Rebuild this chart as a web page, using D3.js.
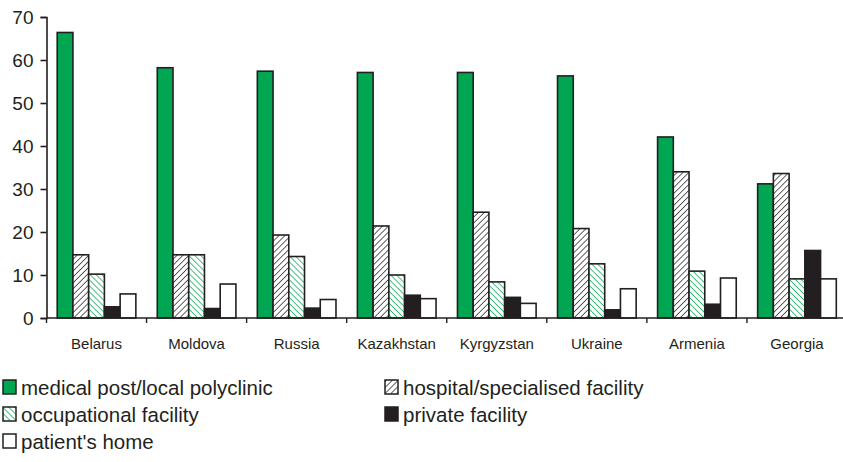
<!DOCTYPE html>
<html>
<head>
<meta charset="utf-8">
<script src="https://cdn.jsdelivr.net/npm/d3@7"></script>
<style>
  body { margin: 0; background: #fff; }
  text { font-family: "Liberation Sans", Arial, sans-serif; fill: #231f20; }
</style>
</head>
<body>
<div id="chart"></div>
<script>
const countries = ['Belarus', 'Moldova', 'Russia', 'Kazakhstan', 'Kyrgyzstan', 'Ukraine', 'Armenia', 'Georgia'];
const seriesNames = ['medical post/local polyclinic', 'hospital/specialised facility', 'occupational facility', 'private facility', "patient's home"];
const medical = [66.4, 58.2, 57.4, 57.1, 57.1, 56.3, 42.1, 31.2];
const hospital = [14.7, 14.7, 19.3, 21.4, 24.6, 20.8, 34.0, 33.6];
const occupational = [10.2, 14.7, 14.3, 10.0, 8.4, 12.6, 10.9, 9.1];
const privateFac = [2.6, 2.2, 2.3, 5.3, 4.8, 1.9, 3.2, 15.7];
const home = [5.6, 7.9, 4.3, 4.5, 3.4, 6.8, 9.3, 9.1];
const yTicks = [0, 10, 20, 30, 40, 50, 60, 70];

const seriesValues = [medical, hospital, occupational, privateFac, home];
const fills = ['#00a651', 'url(#hatchHosp)', 'url(#hatchOcc)', '#231f20', '#fff'];
const ink = '#231f20';

const width = 843, height = 462;
const svg = d3.select('#chart').append('svg')
  .attr('width', width)
  .attr('height', height);

// hatch patterns
const defs = svg.append('defs');
const hosp = defs.append('pattern')
  .attr('id', 'hatchHosp')
  .attr('patternUnits', 'userSpaceOnUse')
  .attr('width', 4.2).attr('height', 4.2)
  .attr('patternTransform', 'rotate(45)');
hosp.append('rect').attr('width', 4.2).attr('height', 4.2).attr('fill', '#fff');
hosp.append('line').attr('x1', 0).attr('y1', 0).attr('x2', 0).attr('y2', 4.2)
  .attr('stroke', ink).attr('stroke-width', 1.4);
const occ = defs.append('pattern')
  .attr('id', 'hatchOcc')
  .attr('patternUnits', 'userSpaceOnUse')
  .attr('width', 4.2).attr('height', 4.2)
  .attr('patternTransform', 'rotate(-45)');
occ.append('rect').attr('width', 4.2).attr('height', 4.2).attr('fill', '#fff');
occ.append('line').attr('x1', 0).attr('y1', 0).attr('x2', 0).attr('y2', 4.2)
  .attr('stroke', '#00a651').attr('stroke-width', 1.4);

const plotLeft = 46.5, plotRight = 847, plotTop = 17, plotBottom = 318;

const y = d3.scaleLinear().domain([0, 70]).range([plotBottom, plotTop]);
const x0 = d3.scaleBand().domain(countries).range([plotLeft, plotRight]).padding(0);
const x1 = d3.scaleBand().domain(d3.range(seriesNames.length))
  .range([x0.bandwidth() * 0.107, x0.bandwidth() * 0.893]).padding(0);

// bars
const groups = svg.selectAll('.country')
  .data(countries)
  .enter()
  .append('g')
  .attr('class', 'country')
  .attr('transform', d => `translate(${x0(d)},0)`);

groups.selectAll('rect')
  .data((c, ci) => seriesValues.map((vals, si) => ({ si, v: vals[ci] })))
  .enter()
  .append('rect')
  .attr('x', d => x1(d.si))
  .attr('y', d => y(d.v))
  .attr('width', x1.bandwidth())
  .attr('height', d => plotBottom - y(d.v))
  .attr('fill', d => fills[d.si])
  .attr('stroke', ink)
  .attr('stroke-width', 1.6);

// y axis
const yAxis = svg.append('g')
  .attr('transform', `translate(${plotLeft},0)`)
  .call(d3.axisLeft(y).tickValues(yTicks).tickSize(6).tickPadding(7));
yAxis.select('.domain').attr('stroke', ink).attr('stroke-width', 1.6);
yAxis.selectAll('.tick line').attr('stroke', ink).attr('stroke-width', 1.6);
yAxis.selectAll('.tick text')
  .style('font-family', '"Liberation Sans", Arial, sans-serif')
  .style('font-size', '19px')
  .attr('fill', ink);

// x axis: line plus boundary ticks
const xAxis = svg.append('g');
xAxis.append('line')
  .attr('x1', plotLeft).attr('x2', plotRight)
  .attr('y1', plotBottom).attr('y2', plotBottom)
  .attr('stroke', ink).attr('stroke-width', 1.6);
xAxis.selectAll('.xtick')
  .data(countries)
  .enter()
  .append('line')
  .attr('class', 'xtick')
  .attr('x1', d => x0(d)).attr('x2', d => x0(d))
  .attr('y1', plotBottom).attr('y2', plotBottom + 5)
  .attr('stroke', ink).attr('stroke-width', 1.4);
xAxis.selectAll('.xlabel')
  .data(countries)
  .enter()
  .append('text')
  .attr('class', 'xlabel')
  .attr('x', d => x0(d) + x0.bandwidth() / 2)
  .attr('y', 349)
  .attr('text-anchor', 'middle')
  .style('font-size', '15px')
  .text(d => d);

// legend
const legendPos = [[3, 387], [385, 387], [3, 414], [385, 414], [3, 441]];
const legend = svg.selectAll('.legendItem')
  .data(seriesNames)
  .enter()
  .append('g')
  .attr('class', 'legendItem')
  .attr('transform', (d, i) => `translate(${legendPos[i][0]},${legendPos[i][1]})`);
legend.append('rect')
  .attr('x', 0).attr('y', -7)
  .attr('width', 13).attr('height', 14)
  .attr('fill', (d, i) => fills[i])
  .attr('stroke', ink)
  .attr('stroke-width', 1.5);
legend.append('text')
  .attr('x', 18).attr('y', 7.5)
  .style('font-size', '20.5px')
  .text(d => d);
</script>
</body>
</html>
